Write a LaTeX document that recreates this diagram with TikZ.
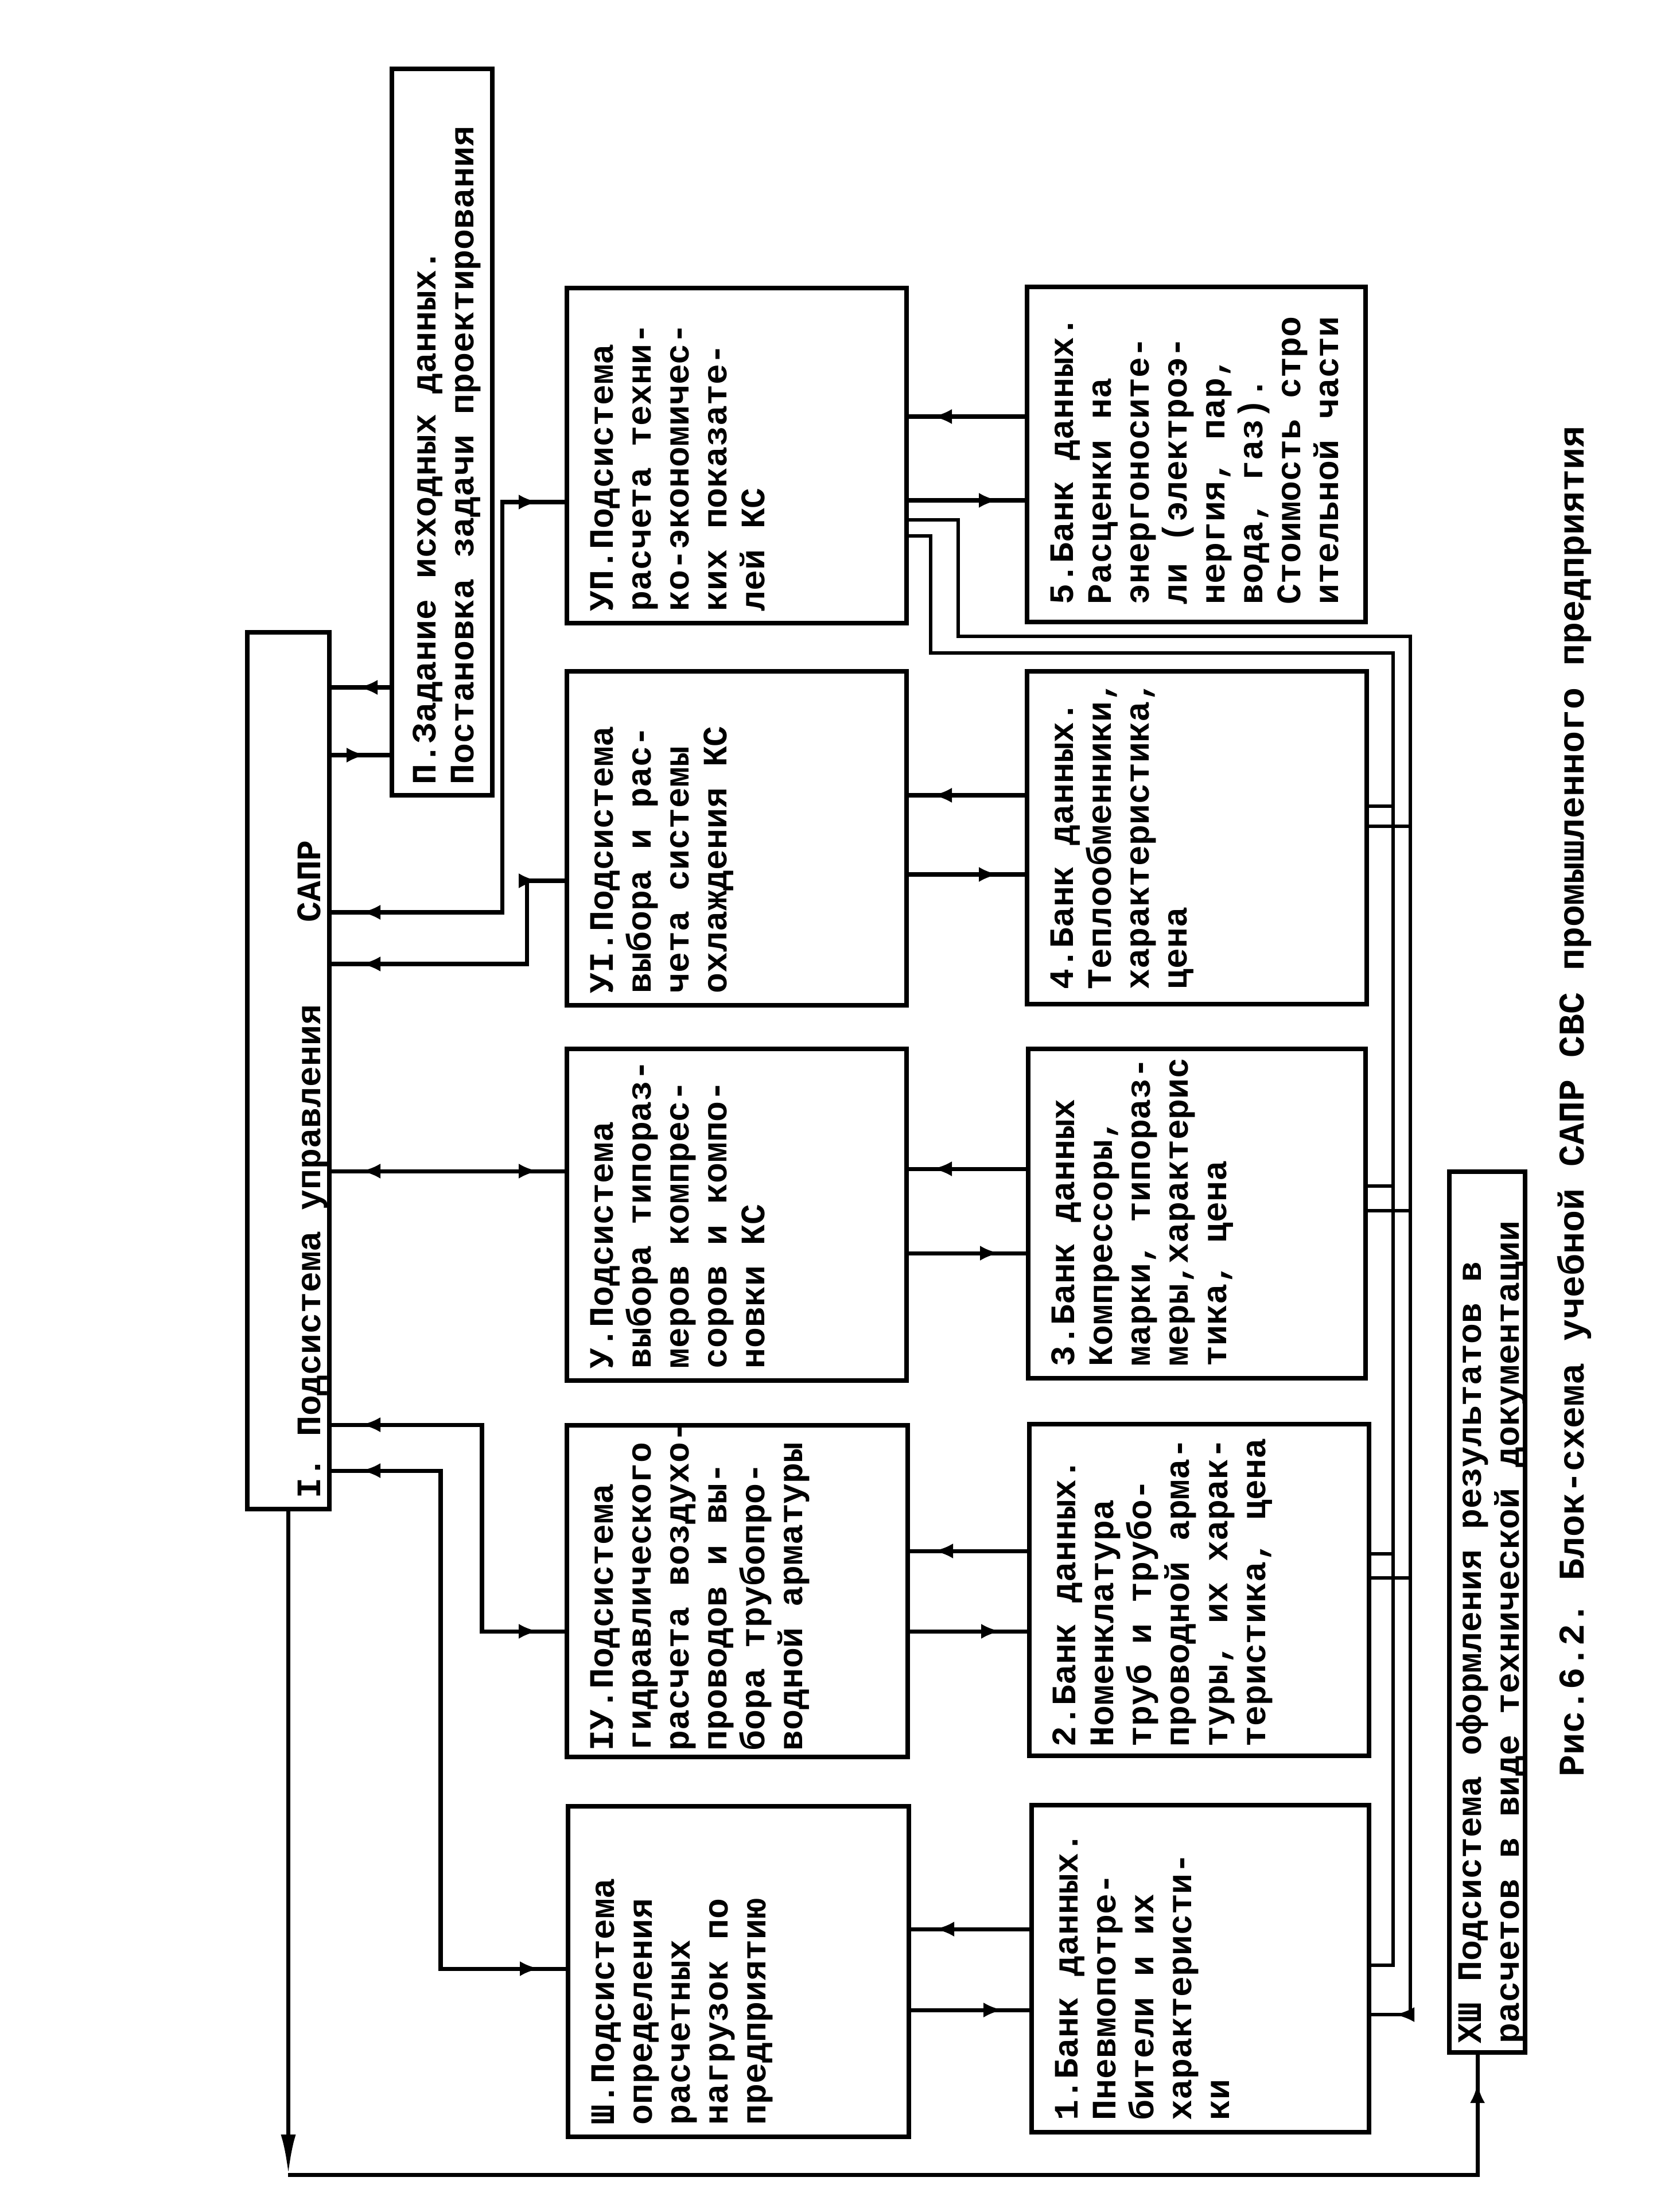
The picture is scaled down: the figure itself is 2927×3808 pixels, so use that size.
\documentclass[tikz,border=0pt]{standalone}
\usepackage{fontspec}
\newfontfamily\tw{Liberation Mono}
\frenchspacing
\usetikzlibrary{arrows.meta,decorations.markings}
\tikzset{
  box/.style={draw, line width=2.4pt, inner sep=0pt, outer sep=0pt, anchor=north west},
  txt/.style={rotate=90, anchor=north west, align=left, inner sep=0pt,
    font=\tw\bfseries\fontsize{17}{18.8}\selectfont},
  bigtxt/.style={rotate=90, anchor=base west, inner sep=0pt,
    font=\tw\bfseries\fontsize{17}{18.8}\selectfont},
  captxt/.style={rotate=90, anchor=base west, inner sep=0pt,
    font=\tw\bfseries\fontsize{18}{20}\selectfont},
  ln/.style={line width=2pt},
  busln/.style={line width=1.5pt},
  midtip/.tip={Latex[length=3.4mm,width=2.6mm]},
  twoway/.style={postaction={decorate}, decoration={markings,
    mark=at position 5.5mm with {\arrowreversed{midtip}},
    mark=at position -5mm with {\arrow{midtip}}}},
  endarr/.style={postaction={decorate}, decoration={markings,
    mark=at position -#1 with {\arrow{midtip}}}}
}
\begin{document}
\frenchspacing
\begin{tikzpicture}[x=0.1mm,y=-0.1mm]
\useasboundingbox (0,0) rectangle (2927,3808);
\fill[white] (0,0) rectangle (2927,3808);

% ---------- boxes ----------
\node[box, minimum width=14.3mm, minimum height=152.8mm] (I) at (431,1102) {};
\node[box, minimum width=17.5mm, minimum height=126.6mm] (P2) at (683,120) {};

\node[box, minimum width=59.2mm, minimum height=58.4mm] (T7) at (988,502) {};
\node[box, minimum width=59.2mm, minimum height=58.2mm] (T6) at (988,1170) {};
\node[box, minimum width=59.2mm, minimum height=57.8mm] (T5) at (988,1828) {};
\node[box, minimum width=59.4mm, minimum height=57.8mm] (T4) at (988,2484) {};
\node[box, minimum width=59.4mm, minimum height=57.6mm] (T3) at (990,3148) {};

\node[box, minimum width=59.0mm, minimum height=58.4mm] (B5) at (1790,500) {};
\node[box, minimum width=59.2mm, minimum height=58.0mm] (B4) at (1790,1170) {};
\node[box, minimum width=58.8mm, minimum height=57.4mm] (B3) at (1792,1828) {};
\node[box, minimum width=59.2mm, minimum height=57.8mm] (B2) at (1794,2482) {};
\node[box, minimum width=58.8mm, minimum height=57.0mm] (B1) at (1798,3146) {};

\node[box, minimum width=13.2mm, minimum height=153.5mm] (X13) at (2526,2042) {};

% ---------- texts ----------
\node[bigtxt] (tI) at (558,2612) {I. Подсистема управления~~~~САПР};
\node[txt] (tP2) at ([xshift=3.6mm,yshift=1.8mm]P2.south west)
  {П.Задание исходных данных.\\Постановка задачи проектирования};

\node[txt] (tT7) at ([xshift=4mm,yshift=2mm]T7.south west)
  {УП.Подсистема\\расчета техни-\\ко-экономичес-\\ких показате-\\лей КС};
\node[txt] (tT6) at ([xshift=4mm,yshift=2mm]T6.south west)
  {УI.Подсистема\\выбора и рас-\\чета системы\\охлаждения КС};
\node[txt] (tT5) at ([xshift=4mm,yshift=2mm]T5.south west)
  {У.Подсистема\\выбора типораз-\\меров компрес-\\соров и компо-\\новки КС};
\node[txt] (tT4) at ([xshift=4mm,yshift=1mm]T4.south west)
  {IУ.Подсистема\\гидравлического\\расчета воздухо-\\проводов и вы-\\бора трубопро-\\водной арматуры};
\node[txt] (tT3) at ([xshift=4mm,yshift=2mm]T3.south west)
  {Ш.Подсистема\\определения\\расчетных\\нагрузок по\\предприятию};

\node[txt] (tB5) at ([xshift=4mm,yshift=3mm]B5.south west)
  {5.Банк данных.\\Расценки на\\энергоносите-\\ли (электроэ-\\нергия, пар,\\вода, газ).\\Стоимость стро\\ительной части};
\node[txt] (tB4) at ([xshift=4mm,yshift=2.5mm]B4.south west)
  {4.Банк данных.\\Теплообменники,\\характеристика,\\цена};
\node[txt] (tB3) at ([xshift=4mm,yshift=2mm]B3.south west)
  {3.Банк данных\\Компрессоры,\\марки, типораз-\\меры,характерис\\тика, цена};
\node[txt] (tB2) at ([xshift=4mm,yshift=1.5mm]B2.south west)
  {2.Банк данных.\\Номенклатура\\труб и трубо-\\проводной арма-\\туры, их харак-\\теристика, цена};
\node[txt] (tB1) at ([xshift=4mm,yshift=2mm]B1.south west)
  {1.Банк данных.\\Пневмопотре-\\бители и их\\характеристи-\\ки};

\node[txt] (tX13) at ([xshift=1.1mm,yshift=1.5mm]X13.south west)
  {ХШ Подсистема оформления результатов в\\расчетов в виде технической документации};

\node[captxt] (cap) at (2760,3097)
  {Рис.6.2. Блок-схема учебной САПР СВС промышленного предприятия};

% ---------- I <-> II ----------
\draw[ln, endarr=5mm] (P2.west |- 0,1198) -- (I.east |- 0,1198);
\draw[ln, endarr=4.5mm] (I.east |- 0,1316) -- (P2.west |- 0,1316);

% ---------- I <-> subsystems ----------
\draw[ln, twoway] (I.east |- 0,1590) -| (875,875) -- (T7.west |- 0,875);
\draw[ln, twoway] (I.east |- 0,1680) -| (918,1535) -- (T6.west |- 0,1535);
\draw[ln, twoway] (I.east |- 0,2041) -- (T5.west |- 0,2041);
\draw[ln, twoway] (I.east |- 0,2483) -| (840,2843) -- (T4.west |- 0,2843);
\draw[ln, twoway] (I.east |- 0,2563) -| (768,3431) -- (T3.west |- 0,3431);

% ---------- subsystems <-> banks ----------
\draw[ln, endarr=4.5mm] (B5.west |- 0,726) -- (T7.east |- 0,726);
\draw[ln, endarr=5mm] (T7.east |- 0,872) -- (B5.west |- 0,872);
\draw[ln, endarr=4.5mm] (B4.west |- 0,1386) -- (T6.east |- 0,1386);
\draw[ln, endarr=5mm] (T6.east |- 0,1524) -- (B4.west |- 0,1524);
\draw[ln, endarr=4.5mm] (B3.west |- 0,2037) -- (T5.east |- 0,2037);
\draw[ln, endarr=5mm] (T5.east |- 0,2184) -- (B3.west |- 0,2184);
\draw[ln, endarr=4.5mm] (B2.west |- 0,2703) -- (T4.east |- 0,2703);
\draw[ln, endarr=5mm] (T4.east |- 0,2843) -- (B2.west |- 0,2843);
\draw[ln, endarr=4.5mm] (B1.west |- 0,3362) -- (T3.east |- 0,3362);
\draw[ln, endarr=5mm] (T3.east |- 0,3503) -- (B1.west |- 0,3503);

% ---------- buses from VII to banks ----------
\coordinate (busA) at (2458,0);
\coordinate (busB) at (2428,0);
\draw[busln, endarr=4.5mm] (T7.east |- 0,906) -| (1670,1109) -| (busA |- 0,3511) -- (B1.east |- 0,3511);
\draw[busln] (T7.east |- 0,934) -| (1622,1138) -| (busB |- 0,3425) -- (B1.east |- 0,3425);
\draw[busln] (B4.east |- 0,1405) -- (busB |- 0,1405);
\draw[busln] (B4.east |- 0,1440) -- (busA |- 0,1440);
\draw[busln] (B3.east |- 0,2067) -- (busB |- 0,2067);
\draw[busln] (B3.east |- 0,2110) -- (busA |- 0,2110);
\draw[busln] (B2.east |- 0,2708) -- (busB |- 0,2708);
\draw[busln] (B2.east |- 0,2750) -- (busA |- 0,2750);

% ---------- I -> XIII loop ----------
\coordinate (loopA) at (502,3790);
\coordinate (loopB) at (2575,3790);
\draw[ln, -{Latex[length=7mm,width=2.6mm]}] (I.south) -- (I.south |- loopA);
\draw[ln, endarr=5.4mm] (loopA) -- (loopB) -- (X13.south -| loopB);
\end{tikzpicture}
\end{document}
